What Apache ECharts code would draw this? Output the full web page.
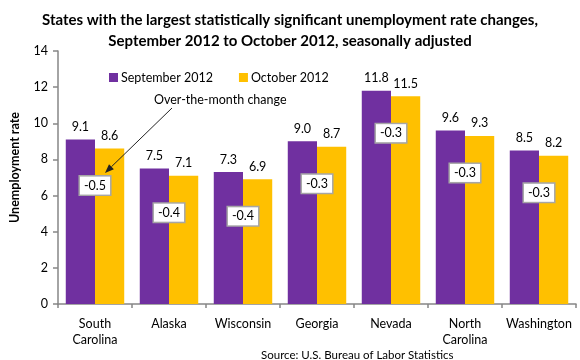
<!DOCTYPE html>
<html>
<head>
<meta charset="utf-8">
<script src="https://cdn.jsdelivr.net/npm/echarts@6/dist/echarts.min.js"></script>
<style>html,body{margin:0;padding:0;background:#fff}#c{width:580px;height:360px}</style>
</head>
<body>
<div id="c"></div>
<script>
var categories = ['South\nCarolina', 'Alaska', 'Wisconsin', 'Georgia', 'Nevada', 'North\nCarolina', 'Washington'];
var september2012 = [9.1, 7.5, 7.3, 9.0, 11.8, 9.6, 8.5];
var october2012 = [8.6, 7.1, 6.9, 8.7, 11.5, 9.3, 8.2];
var monthChange = ['-0.5', '-0.4', '-0.4', '-0.3', '-0.3', '-0.3', '-0.3'];
var yTicks = [0, 2, 4, 6, 8, 10, 12, 14];

var FONT = 'Lato';
var FS = 12.5;
var chart = echarts.init(document.getElementById('c'), null, {renderer: 'canvas'});

// arrow annotation geometry
var tip = [105, 173], tail = [172, 108];
var dx = tip[0] - tail[0], dy = tip[1] - tail[1], L = Math.sqrt(dx*dx + dy*dy);
var ux = dx / L, uy = dy / L, hl = 9, hw = 3.5;
var bx = tip[0] - ux*hl, by = tip[1] - uy*hl;

chart.setOption({
  animation: false,
  textStyle: {fontFamily: FONT},
  title: [{
    text: 'States with the largest statistically significant unemployment rate changes,\nSeptember 2012 to October 2012, seasonally adjusted',
    left: 'center', top: 5,
    textStyle: {fontFamily: FONT, fontWeight: 'bold', fontSize: 15, lineHeight: 20.5, color: '#000'}
  }, {
    text: 'Source: U.S. Bureau of Labor Statistics',
    left: 256, top: 344,
    textStyle: {fontFamily: FONT, fontWeight: 'normal', fontSize: 11.5, color: '#000'}
  }],
  legend: {
    left: 104, top: 66,
    itemWidth: 9, itemHeight: 9, itemGap: 26,
    icon: 'rect',
    textStyle: {fontFamily: FONT, fontSize: FS, color: '#000', padding: [0, 0, 0, -2]},
    data: ['September 2012', 'October 2012']
  },
  grid: {left: 49.5, right: 4, top: 51, bottom: 56},
  xAxis: {
    type: 'category',
    data: categories,
    axisLine: {lineStyle: {color: '#868686', width: 1.5}},
    axisTick: {show: true, length: 4, lineStyle: {color: '#868686', width: 1.5}},
    axisLabel: {fontFamily: FONT, fontSize: FS, color: '#000', margin: 12, lineHeight: 16, interval: 0}
  },
  yAxis: {
    type: 'value', min: 0, max: 14, interval: 2,
    name: 'Unemployment rate', nameLocation: 'middle', nameGap: 37,
    nameTextStyle: {fontFamily: FONT, fontWeight: 'bold', fontSize: 12.5, color: '#000', padding: [0, 0, 0, 20]},
    axisLine: {show: true, lineStyle: {color: '#868686', width: 1.5}},
    axisTick: {show: true, length: 5, lineStyle: {color: '#868686', width: 1.5}},
    splitLine: {show: false},
    axisLabel: {fontFamily: FONT, fontSize: FS, color: '#000', margin: 10,
      formatter: function (v) { return yTicks.indexOf(v) >= 0 ? String(v) : ''; }}
  },
  series: [{
    name: 'September 2012', type: 'bar', data: september2012,
    barGap: '0%', barCategoryGap: '21%',
    itemStyle: {color: '#7030A0'},
    label: {show: true, position: 'top', distance: 6, fontFamily: FONT, fontSize: FS, color: '#000',
      formatter: function (p) { return p.value.toFixed(1); }}
  }, {
    name: 'October 2012', type: 'bar', data: october2012,
    itemStyle: {color: '#FFC000'},
    label: {show: true, position: 'top', distance: 6, fontFamily: FONT, fontSize: FS, color: '#000',
      formatter: function (p) { return p.value.toFixed(1); }}
  }, {
    name: 'change', type: 'scatter', data: october2012,
    symbolSize: 0, silent: true, z: 5,
    itemStyle: {color: '#ffffff', opacity: 1},
    label: {show: true, position: 'inside', offset: [0, 37], opacity: 1,
      fontFamily: FONT, fontSize: FS, color: '#000',
      textBorderWidth: 0, textShadowBlur: 0,
      backgroundColor: '#ffffff', borderColor: '#a6a6a6', borderWidth: 1.5,
      padding: [3, 4, 2, 4],
      formatter: function (p) { return monthChange[p.dataIndex]; }}
  }],
  graphic: [{
    type: 'text', left: 154, top: 93,
    style: {text: 'Over-the-month change', fontFamily: FONT, fontSize: FS, fill: '#000'}
  }, {
    type: 'line', shape: {x1: tail[0], y1: tail[1], x2: bx, y2: by},
    style: {stroke: '#222', lineWidth: 1}, z: 10
  }, {
    type: 'polygon', shape: {points: [tip, [bx + uy*hw, by - ux*hw], [bx - uy*hw, by + ux*hw]]},
    style: {fill: '#222'}, z: 10
  }]
});
</script>
</body>
</html>
